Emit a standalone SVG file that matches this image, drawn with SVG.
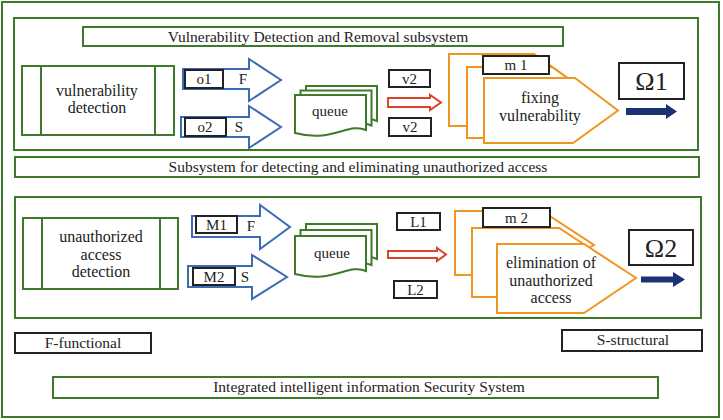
<svg xmlns="http://www.w3.org/2000/svg" width="723" height="420" viewBox="0 0 723 420">
<defs>
<style>
.g{fill:#fff;stroke:#3f7a2c;stroke-width:2}
.gn{fill:none;stroke:#3f7a2c;stroke-width:2}
.k{fill:#fff;stroke:#222;stroke-width:2}
.bl{fill:#fff;stroke:#3b6cb4;stroke-width:2}
.or{fill:#fff;stroke:#f0961e;stroke-width:2;stroke-linejoin:miter}
.rd{fill:#fff;stroke:#d9452a;stroke-width:2}
.nv{fill:#1a3473;stroke:none}
.tx{fill:#222;text-anchor:middle}
.t14{font-size:15px}
.tt{font-size:15.5px}
.t15{font-size:16px}
.om{font-size:26px}
</style>
</defs>
<rect width="723" height="420" fill="#fff"/>
<rect id="frame" x="2" y="2" width="717" height="415" class="gn"/>

<g id="sub1">
<rect x="14" y="18" width="684" height="132" class="gn"/>
</g>
<g id="connectors">
<polygon points="183,69 249,69 249,59 281,80 249,101 249,89 183,89" class="bl"/>
<polygon points="181,117 249,117 249,106 281,127 249,148 249,137 181,137" class="bl"/>
<polygon points="388,98 430,98 430,95 441,102.5 430,110 430,107 388,107" class="rd"/>
<polygon points="626,108 666,108 666,104 677,111.5 666,119 666,115 626,115" class="nv"/>
<polygon points="192,216 260,216 260,205 290,227 260,249 260,237 192,237" class="bl"/>
<polygon points="188,266 252,266 252,255 287,277 252,299 252,287 188,287" class="bl"/>
<polygon points="388,251 437,251 437,248 446,254.5 437,261 437,258 388,258" class="rd"/>
<polygon points="641,276.5 673,276.5 673,272 685,279.5 673,287 673,282.5 641,282.5" class="nv"/>
</g>
<g id="sub2">
<rect x="15" y="197" width="686" height="121" class="gn"/>
</g>

<g font-family="Liberation Serif, Times New Roman, Tinos, DejaVu Serif, serif">
<g id="title1">
<rect x="83" y="27" width="480" height="19" class="g"/>
<text x="318" y="41.5" class="tx tt">Vulnerability Detection and Removal subsystem</text>
</g>
<g id="vuln-detection">
<rect x="22" y="66" width="152" height="69" class="g"/>
<line x1="41" y1="66" x2="41" y2="135" class="gn"/>
<line x1="155" y1="66" x2="155" y2="135" class="gn"/>
<text x="97" y="96" class="tx t15">vulnerability</text>
<text x="97" y="113" class="tx t15">detection</text>
</g>
<g id="o1">
<rect x="185" y="70" width="38" height="18" class="k"/>
<text x="204" y="84" class="tx t14">o1</text>
<text x="243" y="84" class="tx t14">F</text>
</g>
<g id="o2">
<rect x="185" y="118" width="41" height="18" class="k"/>
<text x="205" y="132" class="tx t14">o2</text>
<text x="239" y="132" class="tx t14">S</text>
</g>
<g id="queue1">
<path d="M306,86 H377 V121 C360,113 345,133 306,124 Z" class="g"/>
<path d="M300.5,90.5 H371.5 V125.5 C354,117 339,138 300.5,128.5 Z" class="g"/>
<path d="M295,95 H366 V130 C348,122 333,143 295,133 Z" class="g"/>
<text x="330" y="116" class="tx t14">queue</text>
</g>
<g id="v2a">
<rect x="389" y="70" width="41" height="17" class="k"/>
<text x="409.5" y="83.5" class="tx t14">v2</text>
</g>
<g id="v2b">
<rect x="389" y="118" width="42" height="18" class="k"/>
<text x="410" y="132" class="tx t14">v2</text>
</g>
<g id="fixing">
<polygon points="449,54 534,54 576,84 534,126 449,126" class="or"/>
<polygon points="467,67 552,67 594,97 552,138 467,138" class="or"/>
<polygon points="484,78 575,78 618,110.5 573,143 484,143" class="or"/>
<rect x="483" y="56" width="66" height="18" class="k"/>
<text x="516" y="70" class="tx t14">m 1</text>
<text x="540" y="103" class="tx t15">fixing</text>
<text x="540" y="121" class="tx t15">vulnerability</text>
</g>
<g id="omega1">
<rect x="619" y="63" width="65" height="36" class="k"/>
<text x="651.5" y="90" class="tx om">Ω1</text>
</g>
<g id="title2">
<rect x="15" y="157" width="684" height="20" class="g"/>
<text x="358" y="172" class="tx tt">Subsystem for detecting and eliminating unauthorized access</text>
</g>
<g id="access-detection">
<rect x="23" y="218" width="155" height="71" class="g"/>
<line x1="42" y1="218" x2="42" y2="289" class="gn"/>
<line x1="160" y1="218" x2="160" y2="289" class="gn"/>
<text x="101" y="242" class="tx t15">unauthorized</text>
<text x="101" y="260" class="tx t15">access</text>
<text x="101" y="277" class="tx t15">detection</text>
</g>
<g id="M1">
<rect x="196" y="216" width="41" height="17" class="k"/>
<text x="216.5" y="229.5" class="tx t14">M1</text>
<text x="251" y="231" class="tx t14">F</text>
</g>
<g id="M2">
<rect x="193" y="268" width="42" height="17" class="k"/>
<text x="214" y="281.5" class="tx t14">M2</text>
<text x="245" y="281.5" class="tx t14">S</text>
</g>
<g id="queue2">
<path d="M306,224 H377 V259 C360,251 345,271 306,262 Z" class="g"/>
<path d="M300.5,230 H371.5 V265 C354,257 339,278 300.5,268 Z" class="g"/>
<path d="M295,236 H366 V271 C348,263 333,284 295,274 Z" class="g"/>
<text x="332" y="258" class="tx t14">queue</text>
</g>
<g id="L1">
<rect x="397" y="213" width="43" height="17" class="k"/>
<text x="418.5" y="226.5" class="tx t14">L1</text>
</g>
<g id="L2">
<rect x="394" y="281" width="43" height="17" class="k"/>
<text x="415.5" y="294.5" class="tx t14">L2</text>
</g>
<g id="elimination">
<polygon points="455,211 542,211 594,245 542,275 455,275" class="or"/>
<polygon points="472,228 559,228 611,262 559,297 472,297" class="or"/>
<polygon points="497,244 584,244 636,278 584,313 497,313" class="or"/>
<rect x="483" y="208" width="67" height="19" class="k"/>
<text x="516.5" y="222.5" class="tx t14">m 2</text>
<text x="551" y="268" class="tx t15">elimination of</text>
<text x="551" y="286" class="tx t15">unauthorized</text>
<text x="551" y="303" class="tx t15">access</text>
</g>
<g id="omega2">
<rect x="629" y="230" width="64" height="35" class="k"/>
<text x="661" y="257" class="tx om">Ω2</text>
</g>
<g id="legend-f">
<rect x="15" y="333" width="136" height="20" class="k"/>
<text x="83" y="348" class="tx tt">F-functional</text>
</g>
<g id="legend-s">
<rect x="562" y="330" width="140" height="21" class="k"/>
<text x="633" y="345" class="tx tt">S-structural</text>
</g>
<g id="title3">
<rect x="53" y="377" width="605" height="21" class="g"/>
<text x="369" y="392" class="tx tt">Integrated intelligent information Security System</text>
</g>
</g>
</svg>
